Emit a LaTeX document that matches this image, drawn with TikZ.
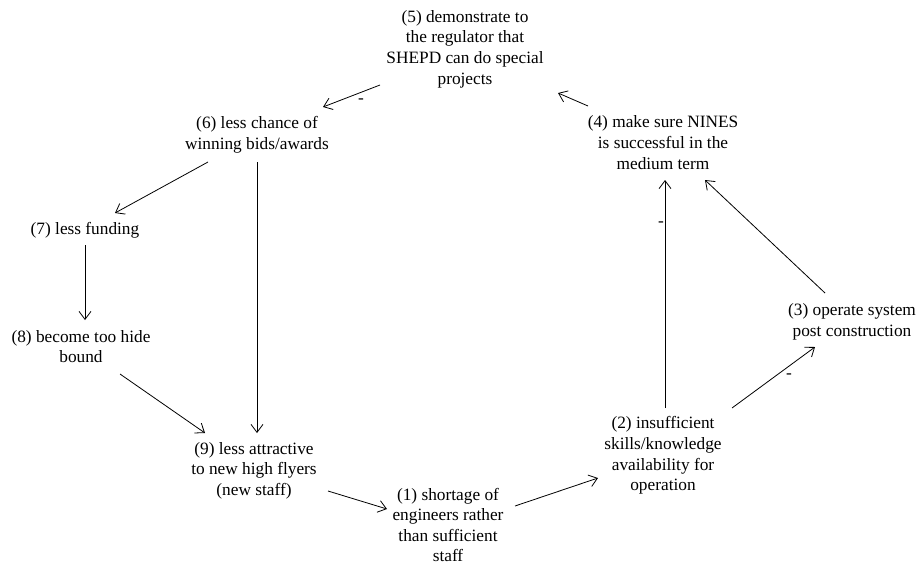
\documentclass[tikz,border=0pt]{standalone}
\usepackage{fontspec}
\setmainfont{LiberationSerif}[Extension=.ttf,UprightFont=*-Regular,BoldFont=*-Bold,ItalicFont=*-Italic,BoldItalicFont=*-BoldItalic]
\usetikzlibrary{arrows.meta,calc}
\tikzset{
  lbl/.style={align=center,inner sep=0pt,font=\rmfamily\fontsize{17.3}{20.6}\selectfont},
  sign/.style={inner sep=0pt,font=\rmfamily\fontsize{17.3}{20.6}\selectfont},
  arr/.style={line width=0.8pt,-{Straight Barb[length=8pt,width=12pt,line width=0.8pt]}}
}
\begin{document}
\begin{tikzpicture}[x=1pt,y=-1pt]
\useasboundingbox (0,0) rectangle (917,562);
\node[lbl] (n5) at (465,49) {(5) demonstrate to\\the regulator that\\SHEPD can do special\\projects};
\node[lbl] (n6) at (257,135) {(6) less chance of\\winning bids/awards};
\node[lbl] (n4) at (663,142.5) {(4) make sure NINES\\is successful in the\\medium term};
\node[lbl] (n7) at (85,230) {(7) less funding};
\node[lbl] (n8) at (81,346.5) {(8) become too hide\\bound};
\node[lbl] (n9) at (254,470.5) {(9) less attractive\\to new high flyers\\(new staff)};
\node[lbl] (n1) at (448,525) {(1) shortage of\\engineers rather\\than sufficient\\staff};
\node[lbl] (n2) at (663,455.5) {(2) insufficient\\skills/knowledge\\availability for\\operation};
\node[lbl] (n3) at (852,322) {(3) operate system\\post construction};

\draw[arr] ($(n5)+(-85,36)$) -- ($(n6)+(66,-28)$);
\draw[arr] ($(n4)+(-75,-36.5)$) -- ($(n5)+(93,44)$);
\draw[arr] ($(n6)+(-49,27)$) -- ($(n7)+(30,-17)$);
\draw[arr] ($(n6)+(0,27)$) -- ($(n9)+(3,-37.5)$);
\draw[arr] ($(n7)+(0,15)$) -- ($(n8)+(4,-26.5)$);
\draw[arr] ($(n8)+(39,27.5)$) -- ($(n9)+(-49,-37.5)$);
\draw[arr] ($(n9)+(74,20.5)$) -- ($(n1)+(-61,-16)$);
\draw[arr] ($(n1)+(67,-19)$) -- ($(n2)+(-65,22.5)$);
\draw[arr] ($(n2)+(2,-47.5)$) -- ($(n4)+(2,37.5)$);
\draw[arr] ($(n2)+(69,-47.5)$) -- ($(n3)+(-37,25)$);
\draw[arr] ($(n3)+(-27,-29)$) -- ($(n4)+(42,37.5)$);

\node[sign] (s56) at (361,101) {-};
\node[sign] (s24) at (661,224.5) {-};
\node[sign] (s23) at (789,376) {-};
\end{tikzpicture}
\end{document}
